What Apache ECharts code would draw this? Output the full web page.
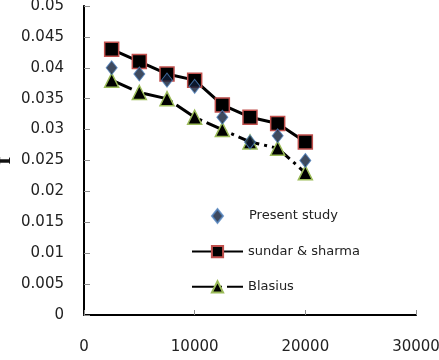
<!DOCTYPE html>
<html>
<head>
<meta charset="utf-8">
<script src="https://cdn.jsdelivr.net/npm/echarts@6/dist/echarts.min.js"></script>
<style>
  html, body { margin: 0; padding: 0; background: #fff; }
  #main { width: 439px; height: 360px; }
</style>
</head>
<body>
<div id="main"></div>
<script>
// data
var reynolds = [2500, 5000, 7500, 10000, 12500, 15000, 17500, 20000];
var presentStudy = [0.040, 0.039, 0.038, 0.037, 0.032, 0.028, 0.029, 0.025];
var sundarSharma = [0.043, 0.041, 0.039, 0.038, 0.034, 0.032, 0.031, 0.028];
var blasius = [0.038, 0.036, 0.035, 0.032, 0.030, 0.028, 0.027, 0.023];

function pairs(xs, ys) {
    return xs.map(function (x, i) { return [x, ys[i]]; });
}

var myChart = echarts.init(document.getElementById('main'));

var labelFont = 'DejaVu Sans';
var legendText = { fontFamily: labelFont, fontSize: 13, color: '#222' };

var option = {
    backgroundColor: '#fff',
    animation: false,
    grid: { left: 84, right: 23, top: 6, bottom: 45, outerBoundsMode: 'none', containLabel: false },
    legend: [{
        // diamond only, no line
        orient: 'vertical',
        left: 211,
        top: 208,
        padding: 0,
        itemWidth: 11,
        itemHeight: 14,
        textStyle: Object.assign({ padding: [0, 0, 0, 21] }, legendText),
        data: ['Present study']
    }, {
        orient: 'vertical',
        left: 191,
        top: 245,
        padding: 0,
        itemWidth: 51,
        itemHeight: 14,
        itemGap: 22,
        textStyle: legendText,
        data: ['sundar & sharma', 'Blasius']
    }],
    xAxis: [{
        type: 'value',
        min: 0,
        max: 30000,
        interval: 10000,
        name: 'Re',
        nameLocation: 'middle',
        nameGap: 33,
        nameTextStyle: {
            fontFamily: 'Liberation Serif',
            fontWeight: 'bold',
            fontSize: 26,
            color: '#111',
            padding: [0, 26, 0, 0]
        },
        axisLine: { show: true, lineStyle: { color: '#8c8c8c', width: 2 } },
        axisTick: { show: true, inside: true, length: 5, lineStyle: { color: '#8c8c8c' } },
        axisLabel: {
            margin: 25, fontFamily: labelFont, fontSize: 15, color: '#222', showMaxLabel: true,
            formatter: function (v) { return String(v); }
        },
        splitLine: { show: false }
    }, {
        type: 'value',
        position: 'top',
        min: 0,
        max: 30000,
        axisLine: { show: true, lineStyle: { color: '#000', width: 2 } },
        axisTick: { show: false },
        axisLabel: { show: false },
        splitLine: { show: false }
    }],
    yAxis: [{
        type: 'value',
        min: 0,
        max: 0.05,
        interval: 0.005,
        name: 'f',
        nameLocation: 'middle',
        nameGap: 68,
        nameRotate: 90,
        nameMoveOverlap: false,
        nameTextStyle: {
            fontFamily: 'Liberation Serif',
            fontWeight: 'bold',
            fontSize: 24,
            color: '#111'
        },
        axisLine: { show: true, lineStyle: { color: '#8c8c8c', width: 2 } },
        axisTick: { show: true, inside: true, length: 6, lineStyle: { color: '#8c8c8c' } },
        axisLabel: {
            margin: 20,
            fontFamily: labelFont,
            fontSize: 15,
            color: '#222',
            formatter: function (v) { return String(+v.toFixed(3)); }
        },
        splitLine: { show: false }
    }, {
        type: 'value',
        position: 'right',
        min: 0,
        max: 0.05,
        axisLine: { show: true, lineStyle: { color: '#000', width: 2 } },
        axisTick: { show: false },
        axisLabel: { show: false },
        splitLine: { show: false }
    }],
    series: [{
        name: 'sundar & sharma',
        type: 'line',
        data: pairs(reynolds, sundarSharma),
        symbol: 'rect',
        symbolSize: 14,
        z: 2,
        itemStyle: { color: '#000', borderColor: '#c0504d', borderWidth: 1.5 },
        lineStyle: { color: '#000', width: 3 }
    }, {
        name: 'Blasius',
        type: 'line',
        data: pairs(reynolds, blasius),
        symbol: 'triangle',
        symbolSize: 14,
        z: 3,
        itemStyle: { color: '#000', borderColor: '#9bbb59', borderWidth: 1.5 },
        lineStyle: { color: '#000', width: 3, type: [22, 5, 3, 5] }
    }, {
        name: 'Present study',
        type: 'scatter',
        data: pairs(reynolds, presentStudy),
        symbol: 'diamond',
        symbolSize: [11, 14],
        z: 4,
        itemStyle: { color: '#0f1d36', borderColor: '#4f81bd', borderWidth: 1 }
    }]
};

myChart.setOption(option);
</script>
</body>
</html>
